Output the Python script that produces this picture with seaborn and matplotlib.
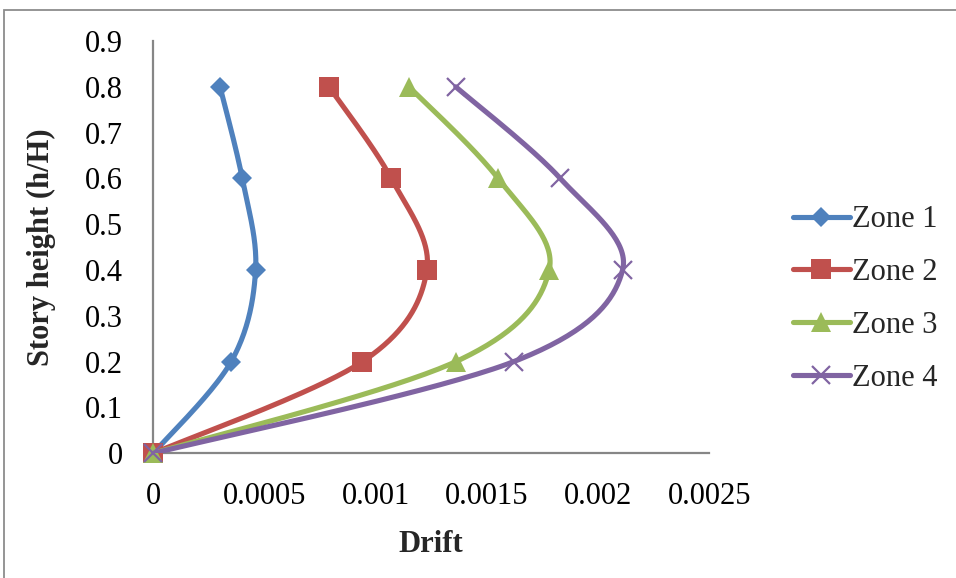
import numpy as np
import pandas as pd
import matplotlib
matplotlib.use("Agg")
import matplotlib.pyplot as plt
from matplotlib.lines import Line2D
from matplotlib.patches import Rectangle
import seaborn as sns

# Story height ratios and drift of each zone
heights = [0.0, 0.2, 0.4, 0.6, 0.8]
zone1 = [0.0, 0.00035, 0.00046, 0.00040, 0.00030]
zone2 = [0.0, 0.00094, 0.00123, 0.00107, 0.00079]
zone3 = [0.0, 0.00136, 0.00178, 0.00155, 0.00115]
zone4 = [0.0, 0.00162, 0.00211, 0.00183, 0.00136]
zone_names = ["Zone 1", "Zone 2", "Zone 3", "Zone 4"]

x_ticks = [0, 0.0005, 0.001, 0.0015, 0.002, 0.0025]
x_tick_labels = ["0", "0.0005", "0.001", "0.0015", "0.002", "0.0025"]
y_ticks = [0, 0.1, 0.2, 0.3, 0.4, 0.5, 0.6, 0.7, 0.8, 0.9]
y_tick_labels = ["0", "0.1", "0.2", "0.3", "0.4", "0.5", "0.6", "0.7", "0.8", "0.9"]

colors = ["#4F81BD", "#C0504D", "#9BBB59", "#8064A2"]
markers = ["D", "s", "^", "x"]
msizes = [10, 15, 14.5, 13]

frames = []
for name, vals in zip(zone_names, [zone1, zone2, zone3, zone4]):
    frames.append(pd.DataFrame({"zone": name, "drift": vals, "height": heights}))
df = pd.concat(frames, ignore_index=True)

sns.set_theme(style="white")
plt.rcParams["font.family"] = ["Liberation Serif", "DejaVu Serif"]

fig = plt.figure(figsize=(9.56, 5.78), dpi=100)
ax = fig.add_axes([153.3 / 956, 1 - 453.3 / 578, 556 / 956, 412.3 / 578])

XMAX, YMAX = 0.0025, 0.9
ax.set_xlim(0, XMAX)
ax.set_ylim(0, YMAX)


def smooth_curve(xs, ys, n=40):
    """Bezier smoothing through the points, computed in screen proportions."""
    w, h = 556.0, 412.3
    px = np.asarray(xs) / XMAX * w
    py = np.asarray(ys) / YMAX * h
    pts = np.column_stack([px, py])
    ext = np.vstack([pts[0], pts, pts[-1]])
    out = []
    t = np.linspace(0, 1, n)[:, None]
    for i in range(1, len(ext) - 2):
        p0, p1, p2, p3 = ext[i - 1], ext[i], ext[i + 1], ext[i + 2]
        c1 = p1 + (p2 - p0) / 6.0
        c2 = p2 - (p3 - p1) / 6.0
        seg = ((1 - t) ** 3) * p1 + 3 * ((1 - t) ** 2) * t * c1 + 3 * (1 - t) * t ** 2 * c2 + t ** 3 * p2
        out.append(seg if i == 1 else seg[1:])
    out = np.vstack(out)
    return out[:, 0] / w * XMAX, out[:, 1] / h * YMAX


handles = []
for i, name in enumerate(zone_names):
    sub = df[df["zone"] == name]
    cx, cy = smooth_curve(sub["drift"].values, sub["height"].values)
    curve = pd.DataFrame({"drift": cx, "height": cy})
    sns.lineplot(data=curve, x="drift", y="height", sort=False, estimator=None,
                 color=colors[i], linewidth=3.7, ax=ax, zorder=3 + 2 * i,
                 solid_capstyle="round")
    if markers[i] == "x":
        ax.plot(sub["drift"], sub["height"], linestyle="none", marker="x",
                markersize=msizes[i], markeredgewidth=1.6, color=colors[i],
                zorder=4 + 2 * i, clip_on=False)
    else:
        ax.plot(sub["drift"], sub["height"], linestyle="none", marker=markers[i],
                markersize=msizes[i], markeredgewidth=0, color=colors[i],
                zorder=4 + 2 * i, clip_on=False)
    handles.append(Line2D([0], [0], color=colors[i], linewidth=3.7,
                          solid_capstyle="round", marker=markers[i],
                          markersize=msizes[i],
                          markeredgewidth=1.6 if markers[i] == "x" else 0))

ax.set_xticks(x_ticks)
ax.set_xticklabels(x_tick_labels)
ax.set_yticks(y_ticks)
ax.set_yticklabels(y_tick_labels)
ax.tick_params(axis="both", length=0, labelsize=22, colors="black")
ax.tick_params(axis="x", pad=21)
ax.tick_params(axis="y", pad=22)
ax.grid(False)

for side in ["top", "right"]:
    ax.spines[side].set_visible(False)
for side in ["left", "bottom"]:
    ax.spines[side].set_color("#868686")
    ax.spines[side].set_linewidth(1.6)
    ax.spines[side].set_zorder(1)

ax.set_xlabel("Drift", fontsize=22, fontweight="bold", labelpad=13)
ax.set_ylabel("Story height (h/H)", fontsize=22, fontweight="bold", labelpad=21)

leg = fig.legend(handles=handles, labels=zone_names, loc="center left",
                 bbox_to_anchor=(781 / 956, 1 - 299 / 578), frameon=False,
                 fontsize=22, handlelength=1.85, handletextpad=0.08,
                 labelspacing=0.78, borderaxespad=0)

# Chart area border
fig.patches.append(Rectangle((4 / 956, -0.1), 1.2, 1 - 10.5 / 578 + 0.1,
                             transform=fig.transFigure, fill=False,
                             edgecolor="#8c8c8c", linewidth=1.3))

fig.savefig("out.png", dpi=100)
